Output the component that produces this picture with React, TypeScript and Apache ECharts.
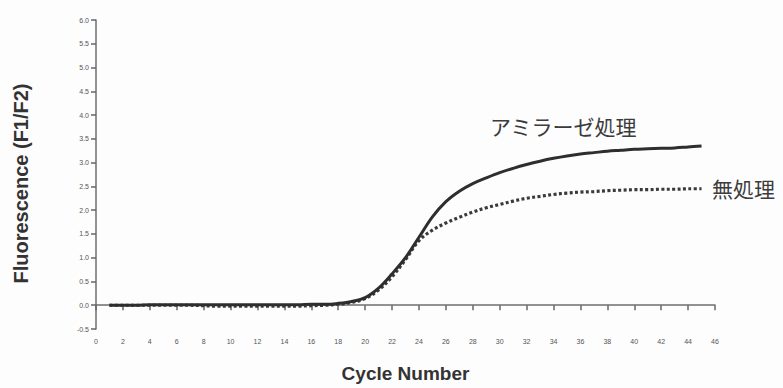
import React, { useEffect, useRef } from "react";
import * as echarts from "echarts";

const cycles = Array.from({ length: 45 }, (_, i) => i + 1);

const amylaseTreated = [
  0.0, 0.0, 0.0, 0.01, 0.01, 0.01, 0.01, 0.01, 0.01, 0.01,
  0.01, 0.01, 0.01, 0.01, 0.01, 0.02, 0.02, 0.04, 0.08, 0.16,
  0.36, 0.66, 1.0, 1.43, 1.86, 2.18, 2.4, 2.56, 2.68, 2.79,
  2.88, 2.96, 3.03, 3.09, 3.14, 3.18, 3.21, 3.24, 3.26, 3.28,
  3.29, 3.3, 3.31, 3.33, 3.35,
];

const untreated = [
  0.0, 0.0, 0.0, 0.0, 0.0, 0.0, 0.0, -0.01, -0.02, -0.02,
  -0.02, -0.02, -0.02, -0.02, -0.02, -0.01, 0.0, 0.02, 0.06, 0.14,
  0.32, 0.6, 0.96, 1.36, 1.58, 1.73, 1.85, 1.96, 2.05, 2.12,
  2.19, 2.25, 2.29, 2.33, 2.36, 2.38, 2.39, 2.41, 2.42, 2.43,
  2.43, 2.44, 2.44, 2.45, 2.45,
];

const seriesNames = ["アミラーゼ処理", "無処理"];
const xAxisTitle = "Cycle Number";
const yAxisTitle = "Fluorescence (F1/F2)";

export default function App() {
  const ref = useRef<HTMLDivElement>(null);
  useEffect(() => {
    if (!ref.current) return;
    const chart = echarts.init(ref.current, null, { renderer: "svg" });
    const axisColor = "#6e6e6e";
    const font = "Liberation Sans, Arial, sans-serif";
    const tickLabel = { color: "#555", fontSize: 7, fontFamily: font };
    chart.setOption({
      animation: false,
      backgroundColor: "#fdfdfd",
      grid: { left: 96, right: 68, top: 20, bottom: 56 },
      xAxis: {
        type: "value",
        min: 0,
        max: 46,
        interval: 2,
        name: xAxisTitle,
        nameLocation: "middle",
        nameGap: 35,
        nameTextStyle: { fontSize: 19, fontWeight: "bold", color: "#333", fontFamily: font },
        axisLine: { show: true, lineStyle: { color: axisColor, width: 1.5 } },
        axisTick: { show: true, inside: false, length: 5, lineStyle: { color: "#666", width: 1.5 } },
        axisLabel: { ...tickLabel, margin: 9 },
        splitLine: { show: false },
      },
      yAxis: {
        type: "value",
        min: -0.5,
        max: 6.0,
        interval: 0.5,
        name: yAxisTitle,
        nameLocation: "middle",
        nameGap: 65,
        nameTextStyle: { fontSize: 20, fontWeight: "bold", color: "#333", fontFamily: font, padding: [0, 18, 0, 0] },
        axisLine: { show: true, lineStyle: { color: axisColor, width: 1.5 } },
        axisTick: { show: true, inside: false, length: 5, lineStyle: { color: "#666", width: 1.5 } },
        axisLabel: { ...tickLabel, margin: 7, formatter: (v: number) => v.toFixed(1) },
        splitLine: { show: false },
      },
      series: [
        {
          name: seriesNames[1],
          type: "line",
          data: cycles.map((c, i) => [c, untreated[i]]),
          showSymbol: false,
          smooth: 0.35,
          lineStyle: { color: "#3a3a3a", width: 3.2, type: [3, 2.4] },
          z: 2,
        },
        {
          name: seriesNames[0],
          type: "line",
          data: cycles.map((c, i) => [c, amylaseTreated[i]]),
          showSymbol: false,
          smooth: 0.35,
          lineStyle: { color: "#2e2e2e", width: 3 },
          z: 3,
        },
      ],
      graphic: [
        {
          type: "text",
          left: 490,
          top: 115,
          style: { text: seriesNames[0], fontSize: 21, fill: "#3c3c3c", fontFamily: "Noto Sans CJK JP" },
        },
        {
          type: "text",
          left: 712,
          top: 177,
          style: { text: seriesNames[1], fontSize: 21, fill: "#3c3c3c", fontFamily: "Noto Sans CJK JP" },
        },
      ],
    });
    return () => chart.dispose();
  }, []);
  return (
    <div
      ref={ref}
      style={{ position: "fixed", left: 0, top: 0, width: 783, height: 388 }}
    />
  );
}
